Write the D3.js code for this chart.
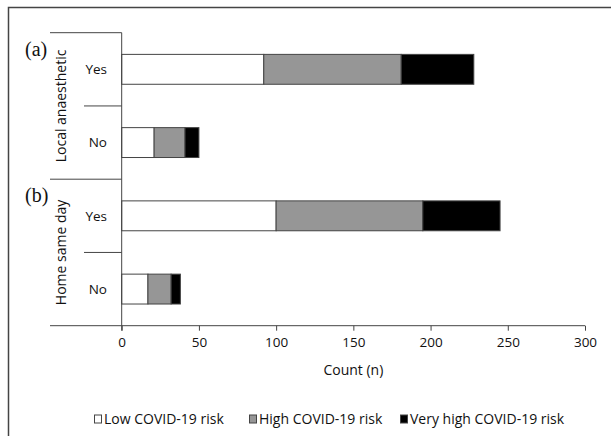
<!DOCTYPE html>
<html>
<head>
<meta charset="utf-8">
<script src="https://cdn.jsdelivr.net/npm/d3@7"></script>
<style>
  body { margin: 0; background: #fff; }
  svg { display: block; font-family: "Open Sans", sans-serif; }
</style>
</head>
<body>
<svg id="chart" width="611" height="436"></svg>
<script>
// rows, top to bottom
const rows = ["la-yes", "la-no", "hs-yes", "hs-no"]
const rowLabels = ["Yes", "No", "Yes", "No"]
const groups = [
  { name: "Local anaesthetic", tag: "(a)", rows: ["la-yes", "la-no"] },
  { name: "Home same day", tag: "(b)", rows: ["hs-yes", "hs-no"] }
]
const series = ["Low COVID-19 risk", "High COVID-19 risk", "Very high COVID-19 risk"]
const lowRisk = [92, 21, 100, 17]
const highRisk = [89, 20, 95, 15]
const veryHighRisk = [47, 9, 50, 6]
const xTicks = [0, 50, 100, 150, 200, 250, 300]

const colors = ["#ffffff", "#969696", "#000000"]

const svg = d3.select("#chart")

// outer frame (cut off at right and bottom like the source image)
svg.append("path")
  .attr("d", "M8.5,440 V7.5 H615")
  .attr("fill", "none")
  .attr("stroke", "#444")
  .attr("stroke-width", 1.5)

const x = d3.scaleLinear().domain([0, 300]).range([121.7, 585])
const y = d3.scaleBand().domain(rows).range([32.7, 325.7])
  .paddingInner(0.592).paddingOuter(0.296)

// build stacked data
const table = rows.map((r, i) => ({ row: r, low: lowRisk[i], high: highRisk[i], vhigh: veryHighRisk[i] }))
const stack = d3.stack().keys(["low", "high", "vhigh"])(table)

const g = svg.append("g")

g.selectAll(".layer")
  .data(stack)
  .join("g")
  .attr("class", "layer")
  .attr("fill", (d, i) => colors[i])
  .selectAll("rect")
  .data(d => d)
  .join("rect")
  .attr("x", d => x(d[0]))
  .attr("y", d => y(d.data.row))
  .attr("width", d => x(d[1]) - x(d[0]))
  .attr("height", y.bandwidth())
  .attr("stroke", "#444")
  .attr("stroke-width", 1)

// x axis
const axisY = 325.7
const xAxis = svg.append("g")
  .attr("transform", `translate(0,${axisY})`)
  .call(d3.axisBottom(x).tickValues(xTicks).tickSize(5).tickPadding(7))
xAxis.select(".domain").remove()
xAxis.selectAll(".tick line").attr("stroke", "#444")
xAxis.selectAll(".tick text")
  .attr("font-size", 13.5)
  .attr("font-family", "Open Sans, sans-serif")
  .attr("fill", "#111")
svg.append("line")
  .attr("x1", 50).attr("x2", x(300))
  .attr("y1", axisY).attr("y2", axisY)
  .attr("stroke", "#444")

svg.append("text")
  .attr("x", x(150))
  .attr("y", 375)
  .attr("text-anchor", "middle")
  .attr("font-size", 14)
  .attr("fill", "#111")
  .text("Count (n)")

// y axis line
svg.append("line")
  .attr("x1", x(0)).attr("x2", x(0))
  .attr("y1", 32.7).attr("y2", axisY + 5)
  .attr("stroke", "#444")

// row separators: short between rows, long between groups
const step = y.step()
rows.forEach((r, i) => {
  const top = y(r) - y.paddingOuter() * step
  const isGroupStart = i % 2 === 0
  svg.append("line")
    .attr("x1", isGroupStart ? 50 : 84).attr("x2", x(0))
    .attr("y1", top).attr("y2", top)
    .attr("stroke", "#444")
})

// row labels
svg.selectAll(".row-label")
  .data(rows)
  .join("text")
  .attr("class", "row-label")
  .attr("x", 107)
  .attr("y", d => y(d) + y.bandwidth() / 2)
  .attr("dy", "0.35em")
  .attr("text-anchor", "end")
  .attr("font-size", 13.5)
  .attr("fill", "#111")
  .text((d, i) => rowLabels[i])

// group labels
groups.forEach(gr => {
  const top = y(gr.rows[0]) - y.paddingOuter() * step
  const bottom = y(gr.rows[1]) + y.bandwidth() + y.paddingOuter() * step
  const mid = (top + bottom) / 2
  svg.append("text")
    .attr("transform", `translate(66,${mid}) rotate(-90)`)
    .attr("text-anchor", "middle")
    .attr("font-size", 14)
    .attr("fill", "#111")
    .text(gr.name)
  svg.append("text")
    .attr("x", 25)
    .attr("y", top + 23)
    .attr("font-family", "Liberation Serif, Times New Roman, serif")
    .attr("font-size", 20)
    .attr("fill", "#111")
    .text(gr.tag)
})

// legend
const legendX = [94, 249, 400]
const legend = svg.selectAll(".legend")
  .data(series)
  .join("g")
  .attr("class", "legend")
  .attr("transform", (d, i) => `translate(${legendX[i]},419.5)`)
legend.append("rect")
  .attr("x", 0.5).attr("y", -4.5)
  .attr("width", 7).attr("height", 8)
  .attr("fill", (d, i) => colors[i])
  .attr("stroke", "#444")
legend.append("text")
  .attr("x", 10)
  .attr("dy", "0.35em")
  .attr("font-size", 14)
  .attr("fill", "#111")
  .text(d => d)
</script>
</body>
</html>
